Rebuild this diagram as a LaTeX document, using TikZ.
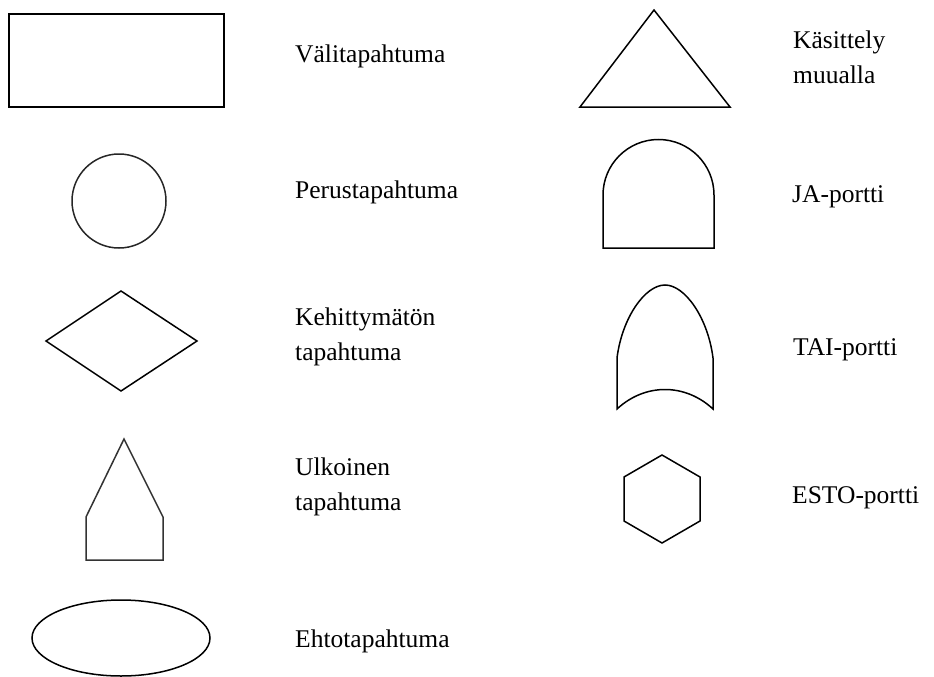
\documentclass[tikz,border=0pt]{standalone}
\usepackage{fontspec}
\setmainfont{Liberation Serif}
\usepackage{tikz}

\begin{document}
\begin{tikzpicture}[x=1pt,y=-1pt,
  shp/.style={line width=1.5pt,line join=miter},
  legtext/.style={anchor=base west,inner sep=0pt,align=left,
    font=\fontsize{25.5}{35}\selectfont}]
  \useasboundingbox (0,0) rectangle (934,677);
  % left column
  \draw[shp] (9,14) rectangle (224,107);
  \draw[shp,black!85] (119,201) circle (47);
  \draw[shp] (46,341) -- (121,291) -- (197,341) -- (121,391) -- cycle;
  \draw[shp,black!80] (86,560) -- (163,560) -- (163,517) -- (124,439) -- (86,517) -- cycle;
  \draw[shp] (121,638) ellipse [x radius=89, y radius=38];
  \node[legtext] (vali) at (295,63) {Välitapahtuma};
  \node[legtext] (perus) at (295,198) {Perustapahtuma};
  \node[legtext] (kehit) at (295,360) {Kehittymätön\\tapahtuma};
  \node[legtext] (ulko) at (295,510) {Ulkoinen\\tapahtuma};
  \node[legtext] (ehto) at (295,647) {Ehtotapahtuma};
  % right column
  \draw[shp] (580,107) -- (654,10) -- (730,107) -- cycle;
  \draw[shp] (603,248) -- (603,195)
    .. controls (603,164.35) and (627.85,139.5) .. (658.5,139.5)
    .. controls (689.15,139.5) and (714,164.35) .. (714,195) -- (714,248) -- cycle;
  \draw[shp] (617,409) -- (617,358)
    .. controls (622,318) and (645,285) .. (665,285)
    .. controls (685,285) and (708,318) .. (713,358) -- (713,409)
    .. controls (685,383) and (645,383) .. (617,409) -- cycle;
  \draw[shp] (662,455) -- (700,477) -- (700,521) -- (662,543) -- (624,521) -- (624,477) -- cycle;
  \node[legtext] (kasit) at (793,83) {Käsittely\\muualla};
  \node[legtext] (ja) at (792,202) {JA-portti};
  \node[legtext] (tai) at (793,355) {TAI-portti};
  \node[legtext] (esto) at (792,503) {ESTO-portti};
\end{tikzpicture}
\end{document}
